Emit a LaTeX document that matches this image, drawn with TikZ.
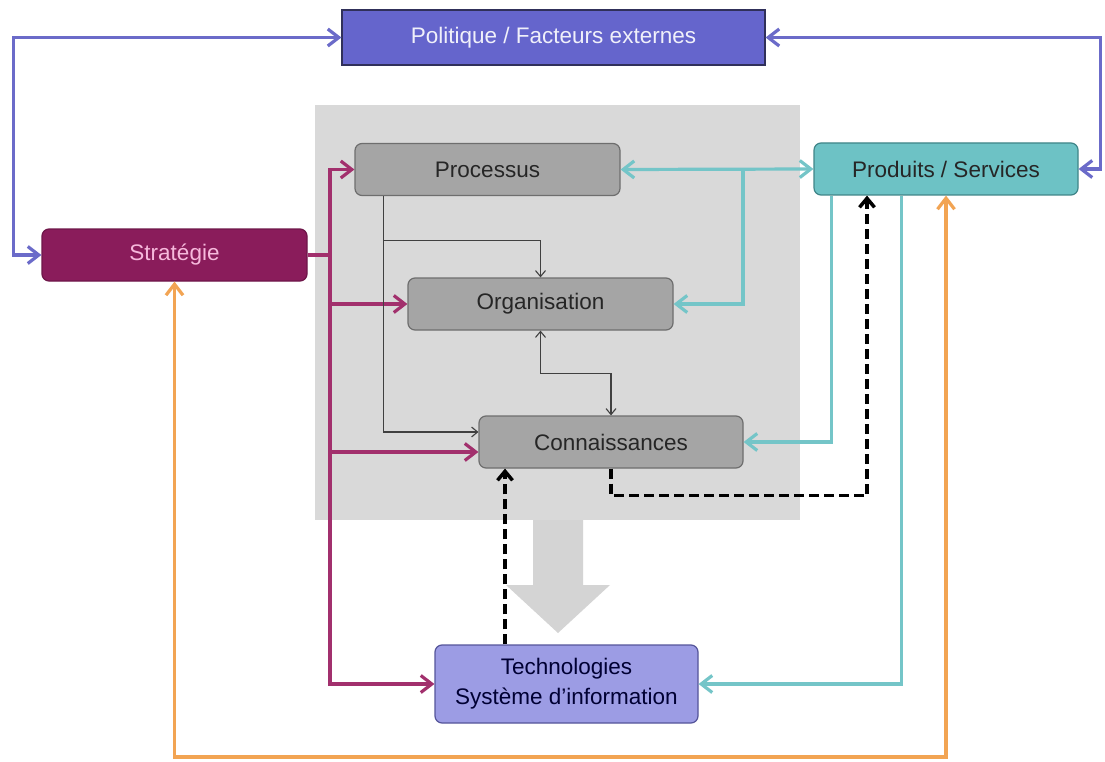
\documentclass[tikz,border=0pt]{standalone}
\usepackage{fontspec}
\setmainfont{Liberation Sans}
\usetikzlibrary{arrows.meta, positioning}

\definecolor{polfill}{HTML}{6565CC}
\definecolor{poledge}{HTML}{30305A}
\definecolor{stratfill}{HTML}{8A1C5B}
\definecolor{strattext}{HTML}{F6B9DC}
\definecolor{greyfill}{HTML}{A5A5A5}
\definecolor{greyedge}{HTML}{6E6E6E}
\definecolor{prodfill}{HTML}{6DC2C5}
\definecolor{prodedge}{HTML}{3F8588}
\definecolor{techfill}{HTML}{9C9CE4}
\definecolor{techedge}{HTML}{55559A}
\definecolor{bggrey}{HTML}{D9D9D9}
\definecolor{bigarrow}{HTML}{D4D4D4}
\definecolor{bluelink}{HTML}{6B6BC9}
\definecolor{maglink}{HTML}{A2306D}
\definecolor{teallink}{HTML}{74C5C8}
\definecolor{orangelink}{HTML}{F2A453}

\begin{document}
\begin{tikzpicture}[x=1pt, y=-1pt,
    box/.style={draw, rounded corners=7pt, line width=1.2pt, minimum width=265pt,
        minimum height=52pt, inner sep=0pt, align=center,
        font=\fontsize{22.5}{32}\selectfont},
    greybox/.style={box, fill=greyfill, draw=greyedge, text=black!85},
    link/.style={line width=3.2pt, -{Straight Barb[length=11pt,width=17pt]}},
    twoway/.style={{Straight Barb[length=11pt,width=17pt]}-{Straight Barb[length=11pt,width=17pt]}},
    thinlink/.style={line width=1.1pt, draw=black!75, -{Straight Barb[length=6pt,width=10pt]}},
    dashlink/.style={line width=3.5pt, dash pattern=on 10pt off 5pt, -{Straight Barb[length=9pt,width=15pt]}}]

    \fill[white] (0,0) rectangle (1105,762);
    \useasboundingbox (0,0) rectangle (1105,762);

    % grey zone and big arrow
    \fill[bggrey] (315,105) rectangle (800,520);
    \fill[bigarrow] (533,520) -- (583,520) -- (583,585) -- (610,585) -- (558,633)
        -- (506,585) -- (533,585) -- cycle;

    \node[box, fill=polfill, draw=poledge, text=white!90!polfill, minimum width=423pt,
        minimum height=55pt, rounded corners=0pt] (politique) at (553.5,37.5) {Politique / Facteurs externes};
    \node[box, fill=stratfill, draw=stratfill!80!black, text=strattext] (strategie) at (174.5,255) {Stratégie};
    \node[greybox] (processus) at (487.5,169.5) {Processus};
    \node[greybox] (organisation) at (540.5,304) {Organisation};
    \node[greybox, minimum width=264pt] (connaissances) at (611,442) {Connaissances};
    \node[box, fill=prodfill, draw=prodedge, text=black!85, minimum width=264pt] (produits) at (946,169) {Produits / Services};
    \node[box, fill=techfill, draw=techedge, text=black!80!blue, minimum width=263pt,
        minimum height=78pt] (techno) at (566.5,684) {Technologies\\[-2pt]Système d\symbol{39}information};

    \coordinate (spine) at (330,255);
    \coordinate (tsplit) at (743,169);
    \coordinate (obase) at (560,757);

    % external factors
    \draw[link, twoway, bluelink] (strategie.west) -- ++(-28,0) |- (politique.west);
    \draw[link, twoway, bluelink] (produits.east) -- ++(22,0) |- (politique.east);

    % strategy
    \draw[link, -, maglink] (strategie.east) -- (spine);
    \draw[link, maglink] (spine) |- (processus.west);
    \draw[link, maglink] (spine) |- (organisation.west);
    \draw[link, maglink] (spine) |- ([yshift=-10pt]connaissances.west);
    \draw[link, maglink] (spine) |- (techno.west);

    % inside the grey zone
    \draw[thinlink] ([xshift=29pt]processus.south west) |- ([yshift=10pt]connaissances.west);
    \draw[thinlink] ([xshift=29pt]processus.south west) ++(0,44) -| (organisation.north);
    \draw[thinlink, {Straight Barb[length=6pt,width=10pt]}-{Straight Barb[length=6pt,width=10pt]}]
        (organisation.south) -- ++(0,43) -| (connaissances.north);

    % products / services
    \draw[link, twoway, teallink] (processus.east) -- (produits.west);
    \draw[link, teallink] (tsplit) |- (organisation.east);
    \draw[link, teallink] ([xshift=18pt]produits.south west) |- (connaissances.east);
    \draw[link, teallink] ([xshift=88pt]produits.south west) |- (techno.east);

    \draw[link, twoway, orangelink] (strategie.south) |- (obase) -| (produits.south);

    % knowledge
    \draw[dashlink] (connaissances.south) -- ++(0,27) -| ([xshift=-79pt]produits.south);
    \draw[dashlink] ([xshift=-61.5pt]techno.north) -- ([xshift=-61.5pt]techno.north |- connaissances.south);
\end{tikzpicture}
\end{document}
